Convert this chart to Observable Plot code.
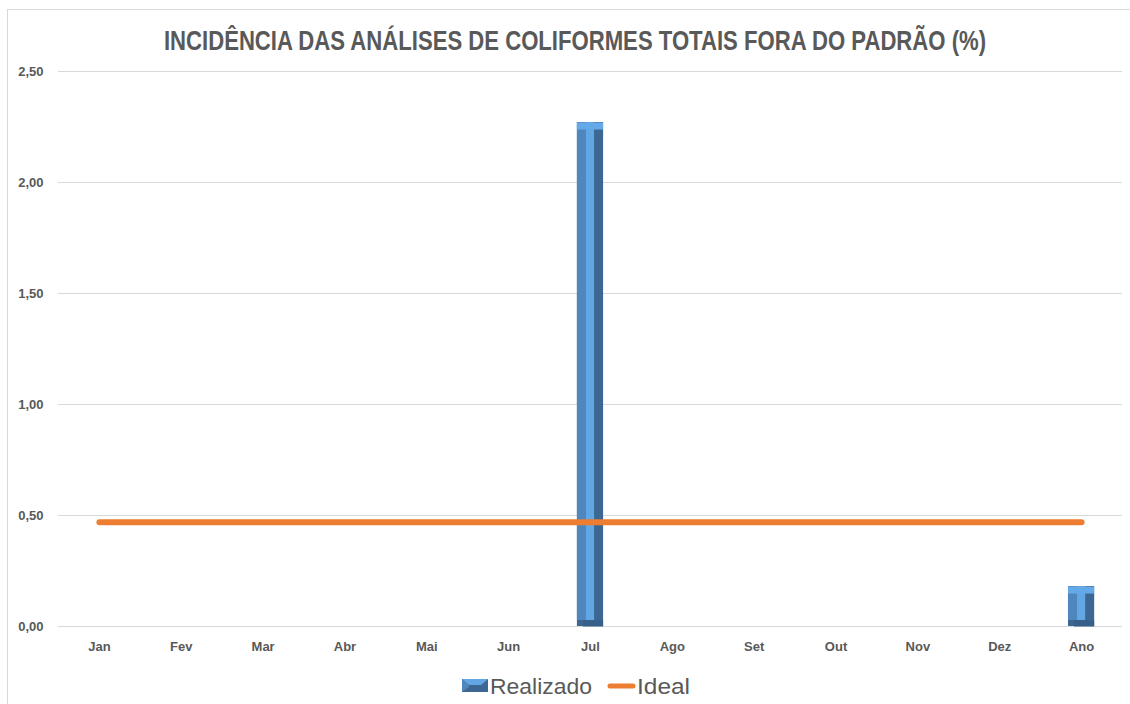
<!DOCTYPE html>
<html>
<head>
<meta charset="utf-8">
<script src="https://cdn.jsdelivr.net/npm/d3@7"></script>
<script src="https://cdn.jsdelivr.net/npm/@observablehq/plot@0.6"></script>
<style>
  html, body { margin: 0; padding: 0; background: #fff; overflow: hidden; }
  #wrap { position: relative; width: 1130px; height: 704px; overflow: hidden; }
  #frame { position: absolute; left: 7px; top: 9px; width: 1200px; height: 800px; border: 1px solid #d9d9d9; box-sizing: border-box; }
  #title { position: absolute; left: 0; top: 24px; width: 1150px; text-align: center; white-space: nowrap;
           font-family: "Liberation Sans", Arial, sans-serif; font-weight: bold; font-size: 28px; line-height: 34px; color: #595959;
           transform: scaleX(0.79); transform-origin: 575px 0; }
  #legend, #chart { position: absolute; left: 0; top: 0; }
  #legend { top: 666px; }
</style>
</head>
<body>
<div id="wrap">
  <div id="frame"></div>
  <div id="title">INCIDÊNCIA DAS ANÁLISES DE COLIFORMES TOTAIS FORA DO PADRÃO (%)</div>
  <div id="chart"></div>
  <svg id="legend" width="1130" height="38">
    <rect x="462" y="13" width="26" height="13" fill="#3b6792"></rect>
    <polygon points="462,13 488,13 481,19 469,19" fill="#62a6e4"></polygon>
    <polygon points="462,13 469,19 469,21 462,26" fill="#4f86bd"></polygon>
    <text x="490" y="28" font-family="Liberation Sans, Arial, sans-serif" font-size="22" fill="#595959" textLength="102" lengthAdjust="spacingAndGlyphs">Realizado</text>
    <line x1="610" y1="20" x2="633" y2="20" stroke="#ed7d31" stroke-width="5" stroke-linecap="round"></line>
    <text x="637" y="28" font-family="Liberation Sans, Arial, sans-serif" font-size="22" fill="#595959" textLength="53" lengthAdjust="spacingAndGlyphs">Ideal</text>
  </svg>
</div>
<script>
const months = ["Jan", "Fev", "Mar", "Abr", "Mai", "Jun", "Jul", "Ago", "Set", "Out", "Nov", "Dez", "Ano"];
const realizado = [0, 0, 0, 0, 0, 0, 2.27, 0, 0, 0, 0, 0, 0.18];
const ideal = [0.47, 0.47, 0.47, 0.47, 0.47, 0.47, 0.47, 0.47, 0.47, 0.47, 0.47, 0.47, 0.47];
const yTicks = [0, 0.5, 1, 1.5, 2, 2.5];

const data = months.map((m, i) => ({month: m, realizado: realizado[i], ideal: ideal[i]}));
const nonzero = data.filter(d => d.realizado > 0);
const fmt = d => d.toFixed(2).replace(".", ",");

const chart = Plot.plot({
  width: 1130,
  height: 670,
  marginTop: 71,
  marginBottom: 44,
  marginLeft: 58,
  marginRight: 8,
  style: {fontFamily: "Liberation Sans, Arial, sans-serif", fontSize: "13px", fontWeight: "bold", color: "#595959", background: "transparent", overflow: "visible"},
  x: {domain: months, paddingInner: 0.68, paddingOuter: 0.34, round: false, tickSize: 0, tickPadding: 15, label: null},
  y: {domain: [0, 2.5], ticks: yTicks, tickFormat: fmt, tickSize: 0, tickPadding: 15, label: null},
  marks: [
    Plot.ruleY(yTicks, {stroke: "#d9d9d9", strokeWidth: 1}),
    Plot.barY(nonzero, {x: "month", y: "realizado", fill: "#3b6792"}),
    Plot.barY(nonzero, {x: "month", y: "realizado", fill: "#4f86bd", insetRight: 17, insetBottom: 6}),
    Plot.barY(nonzero, {x: "month", y: "realizado", fill: "#62a6e4", insetLeft: 9, insetRight: 9, insetBottom: 6}),
    Plot.tickY(nonzero, {x: "month", y: "realizado", stroke: "#64a9e8", strokeWidth: 7, dy: 3.5}),
    Plot.tickY(nonzero, {x: "month", y: 0, stroke: "#375f88", strokeWidth: 6, dy: -3, insetLeft: 6}),
    Plot.line(data, {x: "month", y: "ideal", stroke: "#ed7d31", strokeWidth: 6, strokeLinecap: "round"})
  ]
});
document.getElementById("chart").appendChild(chart);
</script>
</body>
</html>
